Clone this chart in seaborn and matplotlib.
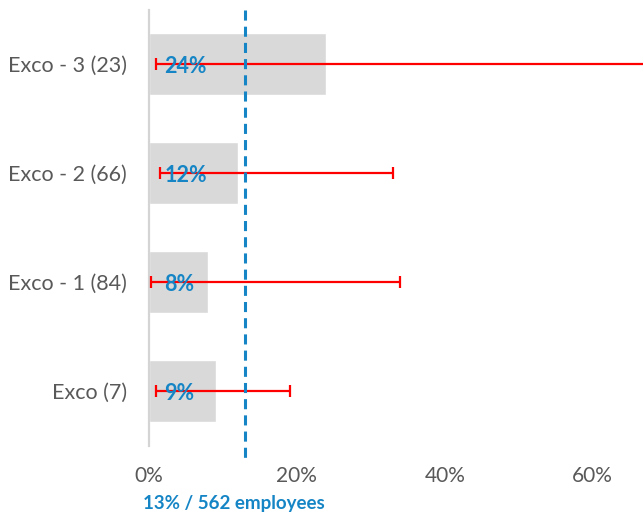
import matplotlib
matplotlib.use("Agg")
import matplotlib.pyplot as plt
import matplotlib.transforms as mtransforms
from matplotlib.ticker import PercentFormatter
import seaborn as sns
import pandas as pd

# Share of employees per management level, with confidence range
categories = ["Exco - 3 (23)", "Exco - 2 (66)", "Exco - 1 (84)", "Exco (7)"]
rates = [0.24, 0.12, 0.08, 0.09]
ci_low = [0.010, 0.015, 0.003, 0.009]
ci_high = [0.70, 0.33, 0.34, 0.19]
value_labels = ["24%", "12%", "8%", "9%"]
overall_rate = 0.13
overall_label = "13% / 562 employees"
x_ticks = [0.0, 0.2, 0.4, 0.6]

BLUE = "#1585c5"
GREY_TEXT = "#595959"

sns.set_theme(style="white")
plt.rcParams["font.family"] = ["Lato", "DejaVu Sans"]

df = pd.DataFrame({"level": categories, "rate": rates})

fig = plt.figure(figsize=(6.43, 5.15), dpi=100)
ax = fig.add_axes([149 / 643, 1 - 445.5 / 515, 1 - 149 / 643, (445.5 - 9.5) / 515])

sns.barplot(data=df, x="rate", y="level", orient="h", color="#d9d9d9",
            saturation=1, width=0.57, errorbar=None, ax=ax)

# asymmetric error bars around each rate
xerr = [[r - lo for r, lo in zip(rates, ci_low)],
        [hi - r for r, hi in zip(rates, ci_high)]]
ax.errorbar(rates, range(len(categories)), xerr=xerr, fmt="none",
            ecolor="#ff0000", elinewidth=1.6, capsize=4.5, capthick=1.6, zorder=3)

# value labels inside the bars
for i, lab in enumerate(value_labels):
    ax.text(0.021, i + 0.02, lab, color=BLUE, fontsize=15.5, fontweight="bold",
            ha="left", va="center", zorder=4)

# overall reference line, reaching below the plot area
trans = mtransforms.blended_transform_factory(ax.transData, ax.transAxes)
ax.plot([overall_rate, overall_rate], [1.0, -0.04], transform=trans, color=BLUE,
        lw=2.2, dashes=(3.3, 2.0), clip_on=False, zorder=5)
ax.annotate(overall_label, xy=(overall_rate, 0), xycoords=trans,
            xytext=(-8, -41.5), textcoords="offset points", ha="center", va="center",
            color=BLUE, fontsize=13.5, fontweight="bold")

ax.set_xlim(0, 0.668)
ax.set_ylim(3.5, -0.5)
ax.set_xticks(x_ticks)
ax.xaxis.set_major_formatter(PercentFormatter(1.0, decimals=0))
ax.set_xlabel("")
ax.set_ylabel("")
ax.tick_params(axis="x", length=0, pad=15, labelsize=15, labelcolor=GREY_TEXT)
ax.tick_params(axis="y", length=0, pad=16, labelsize=15.5, labelcolor=GREY_TEXT)

for side in ["top", "right", "bottom"]:
    ax.spines[side].set_visible(False)
ax.spines["left"].set_color("#d4d4d4")
ax.spines["left"].set_linewidth(1.6)

fig.savefig("out.png", dpi=100)
